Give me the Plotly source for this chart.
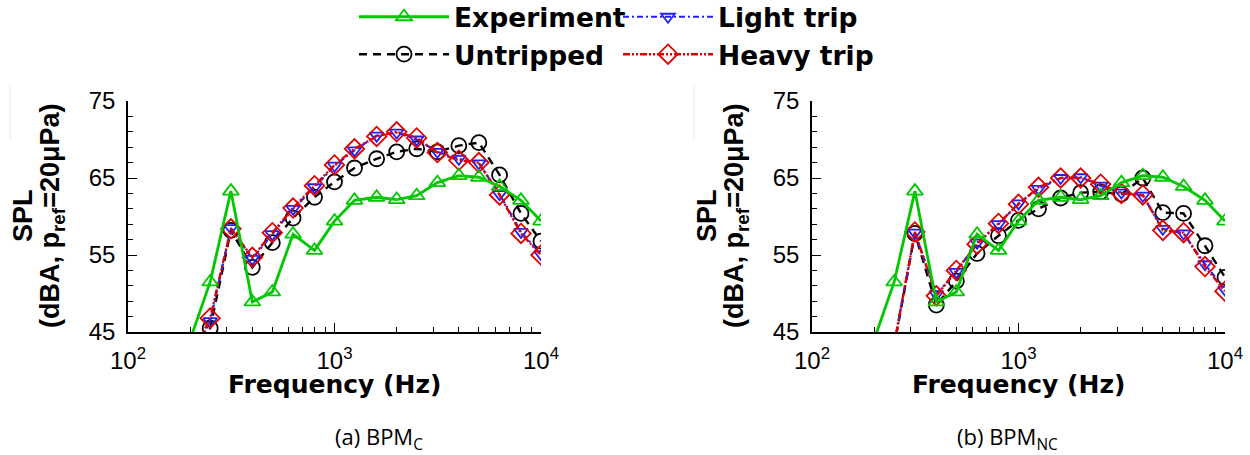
import plotly.graph_objects as go

# ---------------- data ----------------
freq = [200, 250, 315, 400, 500, 630, 800, 1000, 1250, 1600, 2000, 2500,
        3150, 4000, 5000, 6300, 8000, 10000]

experiment = [44.0, 51.5, 63.3, 48.9, 50.2, 57.7, 55.6, 59.4, 62.1, 62.5,
              62.2, 62.7, 64.4, 65.3, 65.1, 63.9, 62.1, 59.4]

# (a) BPM_C
untripped_c = [40.5, 45.5, 58.2, 53.4, 56.6, 59.8, 62.5, 64.5, 66.3, 67.5,
               68.4, 68.8, 68.4, 69.2, 69.6, 65.4, 60.4, 56.8]
light_c = [41.2, 46.4, 58.5, 54.5, 57.7, 61.0, 63.8, 66.6, 68.6, 70.5,
           70.9, 70.0, 68.4, 67.5, 66.9, 62.9, 58.0, 55.1]
heavy_c = [41.5, 46.8, 58.4, 54.7, 57.9, 61.1, 64.0, 66.7, 68.8, 70.4,
           71.0, 70.2, 68.3, 67.3, 67.0, 62.8, 57.8, 55.0]

# (b) BPM_NC
untripped_nc = [36.0, 43.2, 57.8, 48.5, 51.6, 55.2, 57.5, 59.5, 61.0, 62.4,
                63.1, 63.2, 62.9, 65.0, 60.5, 60.4, 56.2, 52.1]
light_nc = [36.3, 43.3, 57.9, 49.9, 52.8, 56.6, 59.0, 61.7, 63.6, 65.0,
            65.1, 64.0, 63.1, 62.7, 58.4, 57.8, 53.8, 50.5]
heavy_nc = [36.5, 43.4, 58.0, 49.7, 53.0, 56.4, 59.1, 61.6, 63.8, 65.0,
            65.0, 64.2, 63.0, 62.8, 58.2, 57.9, 53.5, 50.3]

x_tickvals = [100, 1000, 10000]
x_ticktext = ["10<sup>2</sup>", "10<sup>3</sup>", "10<sup>4</sup>"]
x_minor = [200, 300, 400, 500, 600, 700, 800, 900,
           2000, 3000, 4000, 5000, 6000, 7000, 8000, 9000]
y_tickvals = [45, 55, 65, 75]

captions = ["(a) BPM<sub>C</sub>", "(b) BPM<sub>NC</sub>"]

# ---------------- styles ----------------
GREEN = "#00c800"
BLUE = "#2020ff"
RED = "#e00000"
BLACK = "#000000"

styles = {
    "Experiment": dict(color=GREEN, dash="solid", symbol="triangle-up-open", size=14, width=2.8),
    "Untripped": dict(color=BLACK, dash="8px,6px", symbol="circle-open", size=15, width=2.4),
    "Light trip": dict(color=BLUE, dash="6px,3px,2px,3px", symbol="triangle-down-open", size=12, width=2.2),
    "Heavy trip": dict(color=RED, dash="7px,2px,2px,2px,2px,2px", symbol="diamond-open", size=15, width=2.4),
}
legend_of = {"Experiment": "legend", "Untripped": "legend",
             "Light trip": "legend2", "Heavy trip": "legend2"}
legend_rank = {"Experiment": 1, "Untripped": 2, "Light trip": 1, "Heavy trip": 2}

fig = go.Figure()

panels = [
    ("x", "y", {"Experiment": experiment, "Light trip": light_c,
                "Untripped": untripped_c, "Heavy trip": heavy_c}, True),
    ("x2", "y2", {"Experiment": experiment, "Light trip": light_nc,
                  "Untripped": untripped_nc, "Heavy trip": heavy_nc}, False),
]

order = ["Untripped", "Light trip", "Heavy trip", "Experiment"]
for xa, ya, series, show in panels:
    for name in order:
        s = styles[name]
        fig.add_trace(go.Scatter(
            x=freq, y=series[name], name=name, mode="lines+markers",
            xaxis=xa, yaxis=ya, legend=legend_of[name], showlegend=show,
            legendrank=legend_rank[name],
            line=dict(color=s["color"], dash=s["dash"], width=s["width"]),
            marker=dict(symbol=s["symbol"], size=s["size"], color=s["color"],
                        line=dict(color=s["color"], width=1.8)),
            cliponaxis=True,
        ))

W, H = 1250, 455
y_dom = [1 - 332 / H, 1 - 101 / H]
xdoms = [[128 / W, 541 / W], [812 / W, 1225 / W]]

tickfont = dict(family="Liberation Sans, Arial", size=24, color="black")

def xaxis_cfg(dom, anchor):
    return dict(
        type="log", range=[2, 4], domain=dom, anchor=anchor, automargin=False,
        showline=True, linecolor="black", linewidth=1.6, mirror=False,
        ticks="inside", ticklen=9, tickwidth=1.4, tickcolor="black",
        tickvals=x_tickvals, ticktext=x_ticktext, tickfont=tickfont,
        ticklabelstandoff=6,
        minor=dict(tickvals=x_minor, ticks="inside", ticklen=5, tickwidth=1.2,
                   tickcolor="black", showgrid=False),
        showgrid=False, zeroline=False,
    )

def yaxis_cfg(anchor):
    return dict(
        range=[45, 75], domain=y_dom, anchor=anchor, automargin=False,
        showline=True, linecolor="black", linewidth=1.6, mirror=False,
        ticks="inside", ticklen=9, tickwidth=1.4, tickcolor="black",
        tickvals=y_tickvals, tickfont=tickfont, ticklabelstandoff=6,
        minor=dict(dtick=2, tick0=45, ticks="inside", ticklen=5, tickwidth=1.2,
                   tickcolor="black", showgrid=False),
        showgrid=False, zeroline=False,
    )

legend_font = dict(family="DejaVu Sans", size=26.5, color="black", weight="bold")

fig.update_layout(
    width=W, height=H,
    margin=dict(l=0, r=0, t=0, b=0, pad=0, autoexpand=False),
    paper_bgcolor="white", plot_bgcolor="white",
    xaxis=xaxis_cfg(xdoms[0], "y"),
    yaxis=yaxis_cfg("x"),
    xaxis2=xaxis_cfg(xdoms[1], "y2"),
    yaxis2=yaxis_cfg("x2"),
    legend=dict(x=354 / W, y=1 + 7 / H, xanchor="left", yanchor="top",
                orientation="v", font=legend_font, itemwidth=90,
                tracegroupgap=0, bgcolor="rgba(0,0,0,0)",
                traceorder="normal"),
    legend2=dict(x=618 / W, y=1 + 7 / H, xanchor="left", yanchor="top",
                 orientation="v", font=legend_font, itemwidth=90,
                 tracegroupgap=0, bgcolor="rgba(0,0,0,0)",
                 traceorder="normal"),
    showlegend=True,
)

title_font = dict(family="Liberation Sans, Arial", size=27, color="black", weight="bold")
xtitle_font = dict(family="DejaVu Sans", size=25, color="black", weight="bold")
ann = []
for i, (ax_px, cx) in enumerate([(128, 334), (812, 1018)]):
    # x title
    ann.append(dict(text="Frequency (Hz)", xref="paper", yref="paper",
                    x=cx / W, y=1 - 384 / H, xanchor="center", yanchor="middle",
                    showarrow=False, font=xtitle_font))
    # y title (two lines)
    ann.append(dict(text="SPL", xref="paper", yref="paper",
                    x=(ax_px - 105) / W, y=1 - 216 / H, xanchor="center",
                    yanchor="middle", textangle=-90, showarrow=False,
                    font=title_font))
    ann.append(dict(text="(dBA, p<sub>ref</sub>=20μPa)", xref="paper", yref="paper",
                    x=(ax_px - 76) / W, y=1 - 216 / H, xanchor="center",
                    yanchor="middle", textangle=-90, showarrow=False,
                    font=title_font))
    # caption
    ann.append(dict(text=captions[i], xref="paper", yref="paper",
                    x=[379, 1007][i] / W, y=1 - 438 / H, xanchor="center",
                    yanchor="middle", showarrow=False,
                    font=dict(family="Open Sans", size=22, color="black")))
fig.update_layout(annotations=ann)

# faint artefact lines in the original figure
for x0 in [10, 694]:
    fig.add_shape(type="line", xref="paper", yref="paper",
                  x0=x0 / W, x1=x0 / W, y0=1 - 86 / H, y1=1 - 139 / H,
                  line=dict(color="#e4e4e4", width=1))

fig.write_html("out.html")
